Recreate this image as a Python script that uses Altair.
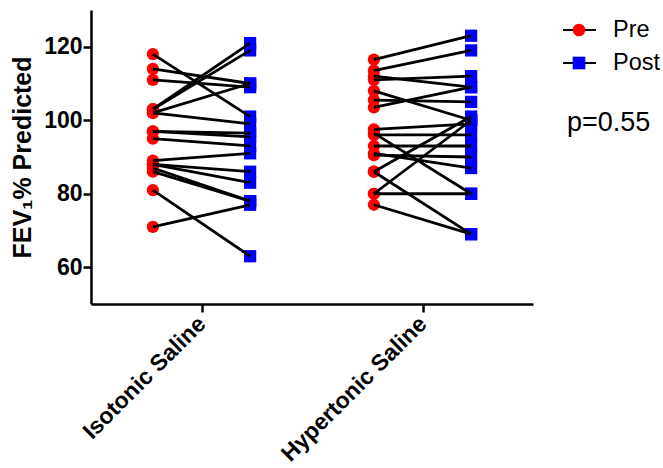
import altair as alt
import pandas as pd

groups = ["Isotonic Saline", "Hypertonic Saline"]
phases = ["Pre", "Post"]
phase_colors = ["#ff0000", "#0000ff"]
phase_shapes = ["circle", "square"]

iso_pre = [118, 114, 111, 103, 103, 102, 102, 97, 97, 95, 89, 88, 88, 87, 86, 81, 71]
iso_post = [101, 110, 109, 121, 119, 110, 99, 96.5, 95.5, 93, 91, 83, 86, 78, 78, 63, 77]
hyp_pre = [116.5, 113.5, 112, 111, 108, 105.5, 103.5, 97.5, 96.5, 96, 93, 90.5, 91, 86, 86, 80, 80, 77]
hyp_post = [123, 119, 109, 112, 100, 105, 109, 99, 80, 96, 93, 90, 87, 69, 101, 100, 80, 69]

y_ticks = [60, 80, 100, 120]
annotation = ["p=0.55"]

rows = []
for gi, (pre, post) in enumerate([(iso_pre, iso_post), (hyp_pre, hyp_post)]):
    for si, (a, b) in enumerate(zip(pre, post)):
        sid = f"{gi}-{si}"
        rows.append({"subject": sid, "group": groups[gi], "phase": "Pre", "value": a, "xpos": gi + 1 - 0.22})
        rows.append({"subject": sid, "group": groups[gi], "phase": "Post", "value": b, "xpos": gi + 1 + 0.22})
df = pd.DataFrame(rows)

FONT = "Liberation Sans"
label_expr = f"datum.value == 1 ? '{groups[0]}' : '{groups[1]}'"

xenc = alt.X(
    "xpos:Q",
    scale=alt.Scale(domain=[0.5, 2.5], nice=False, zero=False),
    axis=alt.Axis(
        values=[1, 2], labelExpr=label_expr, labelAngle=-45, labelAlign="right",
        labelBaseline="middle", title=None, grid=False, tickSize=8, tickWidth=2.5,
        tickColor="black", domainColor="black", domainWidth=2.5,
        labelFont=FONT, labelFontSize=23, labelFontWeight="bold", labelColor="black",
        labelPadding=8, labelLimit=400,
    ),
)
yscale = alt.Scale(domain=[50, 130], nice=False, zero=False)
yaxis = alt.Axis(
    values=y_ticks, title="FEV₁% Predicted", grid=False, tickSize=8, tickWidth=2.5,
    tickColor="black", domainColor="black", domainWidth=2.5,
    labelFont=FONT, labelFontSize=23, labelFontWeight="bold", labelColor="black",
    labelPadding=1, titleFont=FONT, titleFontSize=25, titleFontWeight="bold",
    titleColor="black", titlePadding=8,
)

color_enc = alt.Color("phase:N", scale=alt.Scale(domain=phases, range=phase_colors), legend=None)
shape_enc = alt.Shape("phase:N", scale=alt.Scale(domain=phases, range=phase_shapes), legend=None)

base = alt.Chart(df)
points = base.mark_point(filled=True, opacity=1, size=150).encode(
    x=xenc, y=alt.Y("value:Q", scale=yscale, axis=None), color=color_enc, shape=shape_enc
)
lines = base.mark_line(color="black", strokeWidth=2.8).encode(
    x=xenc, y=alt.Y("value:Q", scale=yscale, axis=yaxis), detail="subject:N"
)

leg_df = pd.DataFrame({"phase": phases})
leg_y = alt.Y("phase:N", scale=alt.Scale(type="point", domain=phases, range=[20, 53], padding=0), axis=None)
leg_base = alt.Chart(leg_df)
leg_lines = leg_base.mark_rule(color="black", strokeWidth=2, clip=False).encode(
    x=alt.value(472), x2=alt.value(505), y=leg_y
)
leg_pts = leg_base.mark_point(filled=True, opacity=1, size=160, clip=False).encode(
    x=alt.value(488), y=leg_y, color=color_enc, shape=shape_enc
)
leg_text = leg_base.mark_text(align="left", baseline="middle", font=FONT, fontSize=23.5, color="black", clip=False).encode(
    x=alt.value(522), y=leg_y, text="phase:N"
)
ann = alt.Chart(pd.DataFrame({"t": annotation})).mark_text(
    align="left", baseline="middle", font=FONT, fontSize=27, color="black", clip=False
).encode(x=alt.value(476), y=alt.value(113), text="t:N")

chart = alt.layer(points, lines, leg_lines, leg_pts, leg_text, ann).resolve_scale(
    y="independent"
).properties(
    width=442, height=294,
    padding={"left": 91, "top": 10, "right": 130, "bottom": 164},
    autosize=alt.AutoSizeParams(type="none"),
).configure_view(stroke=None)

chart.save("out.html", embed_options={"renderer": "svg", "actions": False})
